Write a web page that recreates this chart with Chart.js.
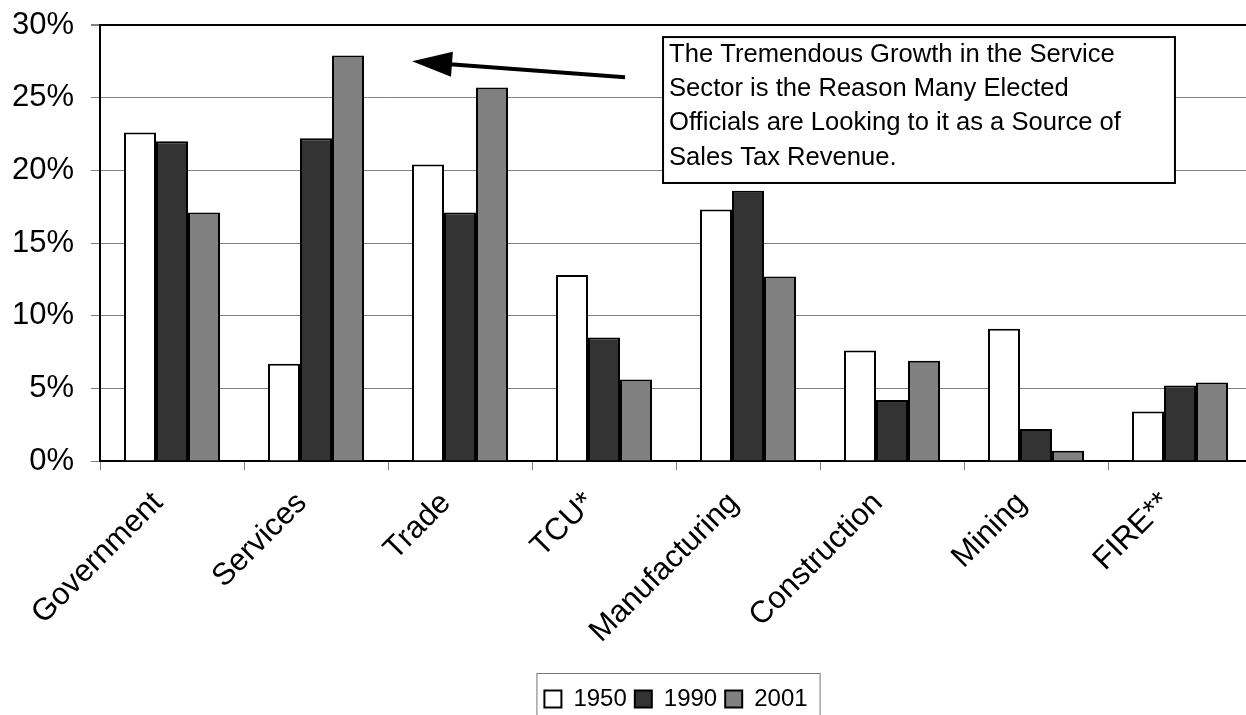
<!DOCTYPE html>
<html>
<head>
<meta charset="utf-8">
<script src="https://cdn.jsdelivr.net/npm/chart.js@4.4.0/dist/chart.umd.min.js"></script>
<style>
  html, body { margin: 0; padding: 0; overflow: hidden; background: #fff; }
</style>
</head>
<body>
<canvas id="chart" width="1262" height="725"></canvas>
<script>
// data (share of total, %)
const categories = ['Government', 'Services', 'Trade', 'TCU*', 'Manufacturing', 'Construction', 'Mining', 'FIRE**'];
const years = ['1950', '1990', '2001'];
const share1950 = [22.6, 6.7, 20.4, 12.8, 17.3, 7.6, 9.1, 3.4];
const share1990 = [22.0, 22.2, 17.1, 8.5, 18.6, 4.2, 2.2, 5.2];
const share2001 = [17.1, 27.9, 25.7, 5.6, 12.7, 6.9, 0.7, 5.4];
const yMax = 30;
const yStep = 5;
const barColors = ['#ffffff', '#333333', '#808080'];
const noteLines = [
  'The Tremendous Growth in the Service',
  'Sector is the Reason Many Elected',
  'Officials are Looking to it as a Source of',
  'Sales Tax Revenue.'
];

const FONT = "'Liberation Sans', Arial, sans-serif";
Chart.defaults.font.family = FONT;
Chart.defaults.color = '#000';

// callout box + arrow, placed in data units (category index, percent)
const calloutPlugin = {
  id: 'callout',
  afterDraw(chart) {
    const { ctx, scales: { x, y } } = chart;
    ctx.save();
    // arrow
    const tip = { x: x.getPixelForValue(1.667), y: y.getPixelForValue(27.5) };
    const tail = { x: x.getPixelForValue(3.146), y: y.getPixelForValue(26.4) };
    const dx = tip.x - tail.x, dy = tip.y - tail.y;
    const len = Math.hypot(dx, dy);
    const ux = dx / len, uy = dy / len;
    const headLen = 40, headHalf = 12.5;
    const bx = tip.x - ux * headLen, by = tip.y - uy * headLen;
    ctx.strokeStyle = '#000';
    ctx.lineWidth = 4;
    ctx.beginPath();
    ctx.moveTo(tail.x, tail.y);
    ctx.lineTo(bx + ux * 2, by + uy * 2);
    ctx.stroke();
    ctx.fillStyle = '#000';
    ctx.beginPath();
    ctx.moveTo(tip.x, tip.y);
    ctx.lineTo(bx - uy * headHalf, by + ux * headHalf);
    ctx.lineTo(bx + uy * headHalf, by - ux * headHalf);
    ctx.closePath();
    ctx.fill();

    // text box
    const l = x.getPixelForValue(3.41), r = x.getPixelForValue(6.965);
    const t = y.getPixelForValue(29.17), b = y.getPixelForValue(19.13);
    ctx.fillStyle = '#fff';
    ctx.fillRect(l, t, r - l, b - t);
    ctx.lineWidth = 2;
    ctx.strokeStyle = '#000';
    ctx.strokeRect(l, t, r - l, b - t);
    ctx.fillStyle = '#000';
    ctx.font = '25.6px ' + FONT;
    ctx.textBaseline = 'alphabetic';
    ctx.textAlign = 'left';
    noteLines.forEach((line, i) => ctx.fillText(line, l + 6, t + 25 + i * 34.2));
    ctx.restore();
  }
};

// thin frame round the legend, cut by the bottom edge like the original
const legendFramePlugin = {
  id: 'legendFrame',
  afterDraw(chart) {
    const boxes = chart.legend && chart.legend.legendHitBoxes;
    if (!boxes || !boxes.length) return;
    const last = boxes[boxes.length - 1];
    const left = boxes[0].left - 8;
    const right = last.left + last.width + 12;
    const top = boxes[0].top - 14;
    const { ctx } = chart;
    ctx.save();
    ctx.strokeStyle = '#777';
    ctx.lineWidth = 1;
    ctx.strokeRect(left + 0.5, top + 0.5, right - left, chart.height - top + 10);
    ctx.restore();
  }
};

new Chart(document.getElementById('chart'), {
  type: 'bar',
  data: {
    labels: categories,
    datasets: [share1950, share1990, share2001].map((values, i) => ({
      label: years[i],
      data: values,
      backgroundColor: barColors[i],
      borderColor: '#000',
      borderWidth: 2,
      categoryPercentage: 0.667,
      barPercentage: 1.0
    }))
  },
  options: {
    responsive: false,
    animation: false,
    layout: { padding: { top: 25, right: 10, left: 0, bottom: 4 } },
    plugins: {
      tooltip: { enabled: false },
      legend: {
        position: 'bottom',
        fullSize: false,
        labels: { font: { size: 24 }, boxWidth: 17, boxHeight: 17, padding: 8, color: '#000' }
      }
    },
    scales: {
      x: {
        grid: { display: true, drawOnChartArea: false, offset: true, tickLength: 9, tickColor: '#808080', tickWidth: 1 },
        border: { display: true, color: '#000', width: 2 },
        ticks: { font: { size: 31 }, color: '#000', minRotation: 45, maxRotation: 45, autoSkip: false, labelOffset: -14, padding: 15 },
        afterFit(scale) { scale.height = 218; }
      },
      y: {
        min: 0,
        max: yMax,
        grid: {
          color: ctx => (ctx.tick && ctx.tick.value === yMax ? '#000' : '#808080'),
          lineWidth: ctx => (ctx.tick && ctx.tick.value === yMax ? 2 : 1),
          tickLength: 9,
          tickColor: '#808080'
        },
        border: { display: true, color: '#000', width: 2 },
        ticks: { stepSize: yStep, font: { size: 31 }, color: '#000', padding: 17, callback: v => v + '%' },
        afterFit(scale) {
          scale.width = 100;
          scale.paddingTop = 0;
          scale.paddingBottom = 0;
        }
      }
    }
  },
  plugins: [calloutPlugin, legendFramePlugin]
});
</script>
</body>
</html>
